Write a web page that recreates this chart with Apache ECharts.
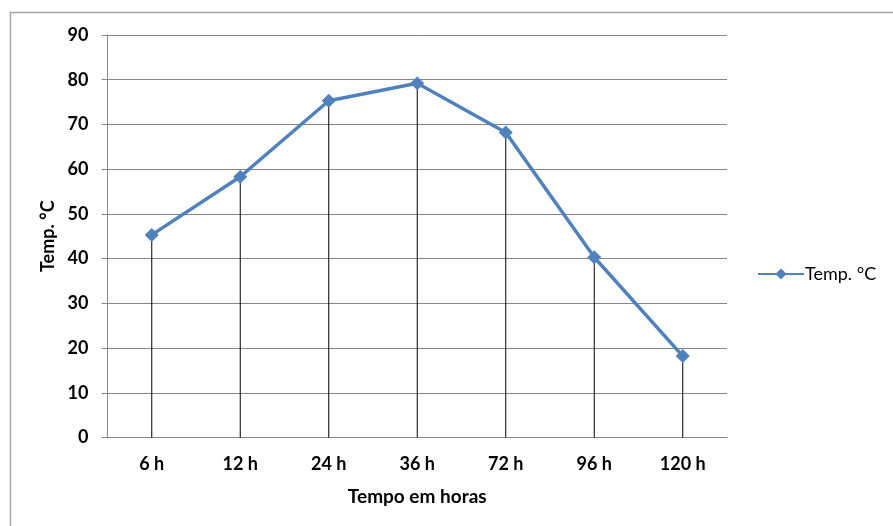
<!DOCTYPE html>
<html>
<head>
<meta charset="utf-8">
<script src="https://cdn.jsdelivr.net/npm/echarts@6/dist/echarts.min.js"></script>
<style>
  html, body { margin: 0; padding: 0; background: #fff; }
  #chart { width: 893px; height: 526px; }
</style>
</head>
<body>
<div id="chart"></div>
<script>
// Temperature readings over time
const categories = ['6 h', '12 h', '24 h', '36 h', '72 h', '96 h', '120 h'];
const tempValues = [45.3, 58.3, 75.3, 79.2, 68.2, 40.3, 18.2];
const seriesName = 'Temp. °C';
const yTicks = { min: 0, max: 90, interval: 10 };

const FONT = 'Lato, "Liberation Sans", sans-serif';
const chart = echarts.init(document.getElementById('chart'));

chart.setOption({
  animation: false,
  backgroundColor: '#fff',
  graphic: [{
    type: 'rect',
    shape: { x: 10.5, y: 12.5, width: 900, height: 540 },
    style: { fill: 'none', stroke: '#a6a6a6', lineWidth: 1.5 },
    silent: true
  }],
  grid: { left: 107.5, right: 166, top: 35, bottom: 88.5, containLabel: false },
  legend: {
    data: [seriesName],
    orient: 'vertical',
    left: 752,
    top: 260,
    itemWidth: 46,
    itemHeight: 14,
    itemGap: 4,
    textStyle: { fontFamily: FONT, fontSize: 18, color: '#000', padding: [0, 0, 0, -4] }
  },
  xAxis: {
    type: 'category',
    data: categories,
    boundaryGap: true,
    name: 'Tempo em horas',
    nameLocation: 'middle',
    nameGap: 50,
    nameTextStyle: { fontFamily: FONT, fontSize: 19, fontWeight: 'bold', color: '#000' },
    axisLine: { lineStyle: { color: '#868686', width: 1 } },
    axisTick: { show: false },
    axisLabel: { fontFamily: FONT, fontSize: 18, fontWeight: 'bold', color: '#000', margin: 18 },
    splitLine: { show: false }
  },
  yAxis: {
    type: 'value',
    min: yTicks.min,
    max: yTicks.max,
    interval: yTicks.interval,
    name: seriesName,
    nameLocation: 'middle',
    nameRotate: 90,
    nameGap: 48,
    nameTextStyle: { fontFamily: FONT, fontSize: 18, fontWeight: 'bold', color: '#000' },
    axisLine: { show: true, lineStyle: { color: '#868686', width: 1 } },
    axisTick: { show: true, length: 6, lineStyle: { color: '#868686' } },
    axisLabel: { fontFamily: FONT, fontSize: 18, fontWeight: 'bold', color: '#000', margin: 19 },
    splitLine: { show: true, lineStyle: { color: '#868686', width: 1 } }
  },
  series: [
    {
      // drop lines from each point down to the category axis
      name: 'drop',
      type: 'bar',
      data: tempValues,
      barWidth: 1,
      itemStyle: { color: '#000' },
      silent: true,
      z: 1
    },
    {
      name: seriesName,
      type: 'line',
      data: tempValues,
      symbol: 'diamond',
      symbolSize: 14,
      showSymbol: true,
      lineStyle: { color: '#4f81bd', width: 3.5 },
      itemStyle: { color: '#4f81bd' },
      z: 3
    }
  ]
});
</script>
</body>
</html>
